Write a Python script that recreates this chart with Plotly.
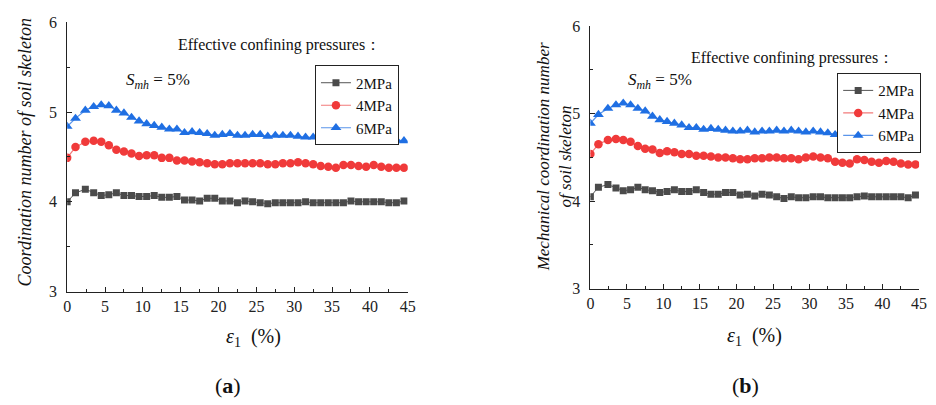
import plotly.graph_objects as go

# ---------------- data ----------------
strain = [0, 1.1, 2.4, 3.5, 4.5, 5.5, 6.5, 7.5, 8.5, 9.5, 10.5, 11.5, 12.5, 13.5, 14.5,
          15.5, 16.5, 17.5, 18.5, 19.5, 20.5, 21.5, 22.5, 23.5, 24.5, 25.5, 26.5, 27.5,
          28.5, 29.5, 30.5, 31.5, 32.5, 33.5, 34.5, 35.5, 36.5, 37.5, 38.5, 39.5, 40.5,
          41.5, 42.5, 43.5, 44.5]

series_names = ["2MPa", "4MPa", "6MPa"]

a_2mpa = [4.00, 4.10, 4.14, 4.10, 4.07, 4.08, 4.10, 4.07, 4.07, 4.06, 4.06, 4.07, 4.05, 4.05,
          4.06, 4.02, 4.02, 4.01, 4.04, 4.04, 4.01, 4.01, 3.99, 4.01, 4.00, 3.99, 3.98, 3.99,
          3.99, 3.99, 3.99, 4.00, 3.99, 3.99, 3.99, 3.99, 3.99, 4.01, 4.00, 4.00, 4.00, 4.00,
          3.99, 3.99, 4.01]
a_4mpa = [4.49, 4.61, 4.67, 4.68, 4.67, 4.63, 4.58, 4.56, 4.54, 4.51, 4.52, 4.52, 4.49, 4.49,
          4.46, 4.46, 4.45, 4.44, 4.43, 4.42, 4.42, 4.43, 4.43, 4.43, 4.43, 4.43, 4.42, 4.42,
          4.43, 4.43, 4.44, 4.43, 4.42, 4.40, 4.39, 4.38, 4.41, 4.41, 4.40, 4.39, 4.41, 4.39,
          4.38, 4.38, 4.38]
a_6mpa = [4.84, 4.93, 5.02, 5.06, 5.08, 5.07, 5.02, 4.99, 4.94, 4.90, 4.87, 4.85, 4.83, 4.81,
          4.81, 4.77, 4.78, 4.77, 4.76, 4.74, 4.75, 4.76, 4.74, 4.74, 4.75, 4.75, 4.73, 4.74,
          4.74, 4.74, 4.73, 4.72, 4.72, 4.70, 4.70, 4.68, 4.70, 4.71, 4.71, 4.71, 4.71, 4.70,
          4.70, 4.69, 4.68]

b_2mpa = [4.05, 4.16, 4.19, 4.15, 4.12, 4.13, 4.16, 4.13, 4.12, 4.10, 4.11, 4.13, 4.11, 4.11,
          4.13, 4.10, 4.08, 4.08, 4.10, 4.10, 4.07, 4.08, 4.06, 4.08, 4.07, 4.05, 4.03, 4.05,
          4.04, 4.04, 4.05, 4.05, 4.04, 4.04, 4.04, 4.04, 4.05, 4.06, 4.05, 4.05, 4.05, 4.05,
          4.05, 4.04, 4.07]
b_4mpa = [4.54, 4.65, 4.70, 4.71, 4.70, 4.68, 4.63, 4.60, 4.59, 4.55, 4.57, 4.56, 4.54, 4.54,
          4.52, 4.52, 4.51, 4.50, 4.50, 4.49, 4.48, 4.48, 4.49, 4.49, 4.50, 4.50, 4.49, 4.49,
          4.48, 4.50, 4.51, 4.50, 4.49, 4.45, 4.44, 4.43, 4.48, 4.47, 4.45, 4.44, 4.46, 4.45,
          4.43, 4.42, 4.42]
b_6mpa = [4.89, 4.99, 5.06, 5.10, 5.12, 5.10, 5.06, 5.03, 4.97, 4.93, 4.91, 4.89, 4.87, 4.84,
          4.84, 4.82, 4.83, 4.82, 4.81, 4.80, 4.80, 4.81, 4.79, 4.80, 4.80, 4.81, 4.80, 4.81,
          4.80, 4.79, 4.80, 4.79, 4.78, 4.76, 4.75, 4.73, 4.76, 4.76, 4.77, 4.76, 4.76, 4.76,
          4.75, 4.74, 4.73]

x_ticks = [0, 5, 10, 15, 20, 25, 30, 35, 40, 45]
y_ticks = [3, 4, 5, 6]

# ---------------- styles ----------------
SERIF = "Liberation Serif, Times New Roman, Times, serif"
styles = [
    dict(marker=dict(symbol="square", size=7, color="#4b4b4b"), line=dict(color="#555555", width=1)),
    dict(marker=dict(symbol="circle", size=8.5, color="#f03a3a"), line=dict(color="#f27a7a", width=1.2)),
    dict(marker=dict(symbol="triangle-up", size=9.5, color="#1f6fe3"), line=dict(color="#5a95ea", width=1.2)),
]

fig = go.Figure()

for panel, (data, xa, ya, leg) in enumerate([
        ((a_2mpa, a_4mpa, a_6mpa), "x", "y", "legend"),
        ((b_2mpa, b_4mpa, b_6mpa), "x2", "y2", "legend2")]):
    for name, vals, st in zip(series_names, data, styles):
        fig.add_trace(go.Scatter(
            x=strain, y=vals, name=name, mode="lines+markers",
            xaxis=xa, yaxis=ya, legend=leg,
            marker=st["marker"], line=st["line"],
        ))

axis_common = dict(
    showgrid=False, zeroline=False, showline=True, linecolor="#222222", linewidth=1,
    ticks="inside", ticklen=5, tickwidth=1, tickcolor="#222222",
    tickfont=dict(family=SERIF, size=16, color="#222222"),
    mirror=False,
)
xaxis_common = dict(axis_common, range=[0, 45], tickvals=x_ticks,
                    minor=dict(ticks="inside", ticklen=3, dtick=2.5, tick0=0, tickcolor="#222222"))
yaxis_common = dict(axis_common, range=[3, 6], tickvals=y_ticks, ticklabelstandoff=6,
                    minor=dict(ticks="inside", ticklen=3, dtick=0.5, tick0=3, tickcolor="#222222"))

W, H = 936, 405
legend_common = dict(xanchor="left", yanchor="top",
                     bordercolor="#222222", borderwidth=1, bgcolor="white",
                     font=dict(family=SERIF, size=15, color="#111111"),
                     itemwidth=30, tracegroupgap=0)
fig.update_layout(
    width=W, height=H,
    margin=dict(l=0, r=0, t=0, b=0),
    paper_bgcolor="white", plot_bgcolor="white",
    font=dict(family=SERIF, color="#111111"),
    xaxis=dict(xaxis_common, domain=[64 / W, 409 / W], anchor="y"),
    yaxis=dict(yaxis_common, domain=[1 - 296 / H, 1 - 15 / H], anchor="x"),
    xaxis2=dict(xaxis_common, domain=[594 / W, 927 / W], anchor="y2"),
    yaxis2=dict(yaxis_common, domain=[1 - 293 / H, 1 - 19 / H], anchor="x2"),
    legend=dict(legend_common, x=315 / W, y=1 - 60 / H),
    legend2=dict(legend_common, x=844 / W, y=1 - 68 / H),
    showlegend=True,
)

def ann(text, x, y, size, angle=0, **kw):
    fig.add_annotation(text=text, x=x / W, y=1 - y / H, xref="paper", yref="paper",
                       showarrow=False, textangle=angle, xanchor="center", yanchor="middle",
                       font=dict(family=SERIF, size=size, color="#111111"), **kw)

# axis titles
ann("<i>ε</i><sub>1</sub>  (%)", 253, 344, 20)
ann("<i>ε</i><sub>1</sub>  (%)", 760, 343, 20)
ann("<i>Coordination number of soil skeleton</i>", 21, 151, 18, angle=-90)
ann("<i>Mechanical coordination number<br>of soil skeleton</i>", 558, 155, 17, angle=-90)

# in-plot texts
ann("Effective confining pressures：", 279, 39, 16)
ann("Effective confining pressures：", 799, 52, 16)
ann("<i>S</i><sub><i>mh</i></sub> = 5%", 156, 76, 17)
ann("<i>S</i><sub><i>mh</i></sub> = 5%", 665, 76, 17)

# panel labels
ann("(<b>a</b>)", 227, 394, 22)
ann("(<b>b</b>)", 751, 394, 22)

fig.write_html("out.html")
